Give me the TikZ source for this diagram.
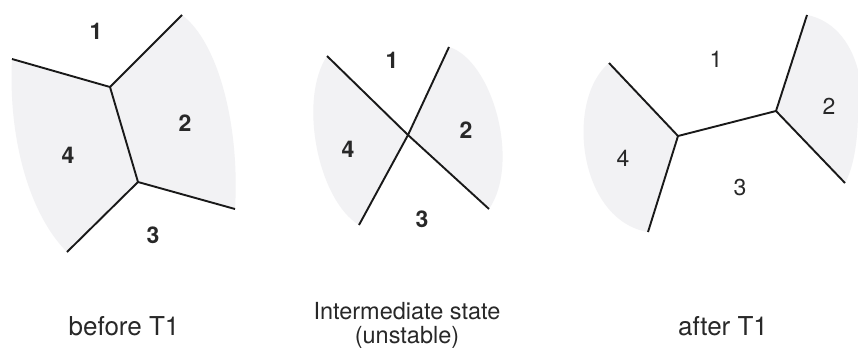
\documentclass[tikz,border=0pt]{standalone}
\usepackage{fontspec}
\setmainfont{TeX Gyre Heros}
\definecolor{cellgray}{RGB}{242,242,244}
\definecolor{edgecol}{RGB}{25,25,25}
\definecolor{txtcol}{RGB}{40,40,40}
\tikzset{
  edge/.style={draw=edgecol, line width=1.9pt},
  shade/.style={fill=cellgray, draw=none},
  numlbl/.style={text=txtcol, font=\fontsize{23}{25}\selectfont\bfseries, inner sep=0pt},
  numlblr/.style={text=txtcol, font=\fontsize{23}{25}\selectfont, inner sep=0pt},
  caption/.style={text=txtcol, font=\fontsize{26}{28}\selectfont, inner sep=0pt, anchor=base},
  captionsm/.style={text=txtcol, font=\fontsize{23.5}{25}\selectfont, inner sep=0pt, anchor=base}
}
\begin{document}
\begin{tikzpicture}[x=1pt, y=-1pt]
\useasboundingbox[fill=white] (0,0) rectangle (858,351);

% ---------- Panel 1: before T1 ----------
\coordinate (aV1) at (110,87);
\coordinate (aV2) at (138,182);
\coordinate (aTR) at (182,15);
\coordinate (aL)  at (12,59);
\coordinate (aR)  at (235,209);
\coordinate (aBL) at (67,252);
\path[shade] (aV1) -- (aTR) .. controls (218,42) and (240,125) .. (aR) -- (aV2) -- cycle;
\path[shade] (aL) -- (aV1) -- (aV2) -- (aBL) .. controls (30,215) and (8,140) .. (aL) -- cycle;
\draw[edge] (aL) -- (aV1);
\draw[edge] (aTR) -- (aV1);
\draw[edge] (aV1) -- (aV2);
\draw[edge] (aV2) -- (aR);
\draw[edge] (aV2) -- (aBL);
\node[numlbl] (a1) at (96,31) {1};
\node[numlbl] (a2) at (185,123) {2};
\node[numlbl] (a4) at (68,155) {4};
\node[numlbl] (a3) at (153,235) {3};

% ---------- Panel 2: intermediate ----------
\coordinate (bX)  at (408,135);
\coordinate (bA1) at (327,56);
\coordinate (bA2) at (489,209);
\coordinate (bB1) at (449,47);
\coordinate (bB2) at (359,225);
\path[shade] (bX) -- (bB1) .. controls (492,60) and (521,162) .. (bA2) -- cycle;
\path[shade] (bA1) -- (bX) -- (bB2) .. controls (318,200) and (298,100) .. (bA1) -- cycle;
\draw[edge] (bA1) -- (bX) -- (bA2);
\draw[edge] (bB1) -- (bX) -- (bB2);
\node[numlbl] (b1) at (392,60) {1};
\node[numlbl] (b2) at (466,130) {2};
\node[numlbl] (b4) at (348,149) {4};
\node[numlbl] (b3) at (422,219) {3};

% ---------- Panel 3: after T1 ----------
\coordinate (cV1) at (678,136);
\coordinate (cV2) at (776,111);
\coordinate (cUL) at (609,63);
\coordinate (cLL) at (648,232);
\coordinate (cUR) at (807,15);
\coordinate (cLR) at (845,183);
\path[shade] (cUL) -- (cV1) -- (cLL) .. controls (578,220) and (565,100) .. (cUL) -- cycle;
\path[shade] (cUR) -- (cV2) -- (cLR) .. controls (851,172) and (858,150) .. (858,110)
   -- (858,70) .. controls (850,40) and (832,20) .. (cUR) -- cycle;
\draw[edge] (cUL) -- (cV1);
\draw[edge] (cLL) -- (cV1);
\draw[edge] (cV1) -- (cV2);
\draw[edge] (cV2) -- (cUR);
\draw[edge] (cV2) -- (cLR);
\node[numlblr] (c1) at (716,59) {1};
\node[numlblr] (c2) at (829,106) {2};
\node[numlblr] (c4) at (623,158) {4};
\node[numlblr] (c3) at (740,188) {3};

% ---------- Captions ----------
\node[caption] (capA) at (124,335) {before T1};
\node[captionsm] (capB1) at (407,319) {Intermediate state};
\node[captionsm] (capB2) at (407,343) {(unstable)};
\node[caption] (capC) at (723,335) {after T1};
\end{tikzpicture}
\end{document}
